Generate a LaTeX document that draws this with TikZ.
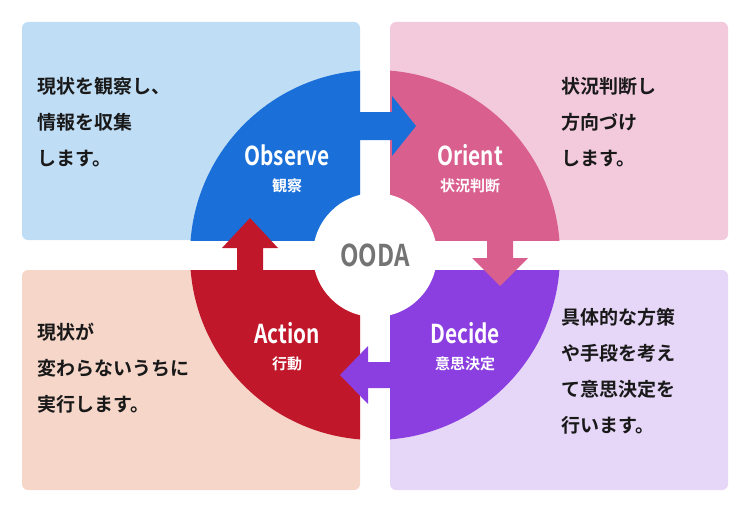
\documentclass[tikz,border=0pt]{standalone}
\usepackage{fontspec}
\setmainfont{Noto Sans CJK JP}
\newfontfamily\jpb{Noto Sans CJK JP Bold}
\definecolor{cTL}{HTML}{BFDDF5}
\definecolor{cTR}{HTML}{F3CADC}
\definecolor{cBL}{HTML}{F5D6C8}
\definecolor{cBR}{HTML}{E6D6F7}
\definecolor{qTL}{HTML}{1A6FD8}
\definecolor{qTR}{HTML}{D9608E}
\definecolor{qBR}{HTML}{8B3FE0}
\definecolor{qBL}{HTML}{C0182A}
\begin{document}
\begin{tikzpicture}[x=1pt,y=-1pt,
  body/.style={align=left,anchor=north west,font=\jpb\fontsize{19}{36}\selectfont,text=black!90},
  big/.style={text=white,font=\jpb\fontsize{26}{28}\selectfont},
  small/.style={text=white,font=\jpb\fontsize{15}{17}\selectfont}]
\useasboundingbox (0,0) rectangle (749,511);
\fill[cTL,rounded corners=6pt] (22,22) rectangle (360,240);
\fill[cTR,rounded corners=6pt] (390,22) rectangle (728,240);
\fill[cBL,rounded corners=6pt] (22,270) rectangle (360,490);
\fill[cBR,rounded corners=6pt] (390,270) rectangle (728,490);
\begin{scope}\clip (0,0) rectangle (360,240); \fill[qTL] (375,255) circle (185); \end{scope}
\begin{scope}\clip (390,0) rectangle (749,240); \fill[qTR] (375,255) circle (185); \end{scope}
\begin{scope}\clip (0,270) rectangle (360,511); \fill[qBL] (375,255) circle (185); \end{scope}
\begin{scope}\clip (390,270) rectangle (749,511); \fill[qBR] (375,255) circle (185); \end{scope}
\fill[white] (375,255) circle (62);
\node (ooda) at (375,255) {\jpb\fontsize{30}{32}\selectfont\color{black!55}\scalebox{0.8}[1]{OODA}};
% arrows
\fill[qTL] (340,112)--(392,112)--(392,96)--(416,126)--(392,156)--(392,140)--(340,140)--cycle;
\fill[qTR] (487,225)--(487,258)--(472,258)--(500,286)--(528,258)--(513,258)--(513,225)--cycle;
\fill[qBR] (410,362)--(368,362)--(368,346)--(340,375)--(368,404)--(368,388)--(410,388)--cycle;
\fill[qBL] (237,290)--(237,248)--(222,248)--(250,218)--(278,248)--(263,248)--(263,290)--cycle;
% labels
\node[big] (ob) at (287,155) {\scalebox{0.8}[1]{Observe}};
\node[small] (obj) at (287,186) {観察};
\node[big] (or) at (470,155) {\scalebox{0.8}[1]{Orient}};
\node[small] (orj) at (470,186) {状況判断};
\node[big] (ac) at (287,333) {\scalebox{0.8}[1]{Action}};
\node[small] (acj) at (287,364) {行動};
\node[big] (de) at (465,333) {\scalebox{0.8}[1]{Decide}};
\node[small] (dej) at (465,364) {意思決定};
% texts
\node[body] (t1) at (34,74) {現状を観察し、\\情報を収集\\します。};
\node[body] (t2) at (558,74) {状況判断し\\方向づけ\\します。};
\node[body] (t3) at (34,320) {現状が\\変わらないうちに\\実行します。};
\node[body] (t4) at (558,305) {具体的な方策\\や手段を考え\\て意思決定を\\行います。};
\end{tikzpicture}
\end{document}
